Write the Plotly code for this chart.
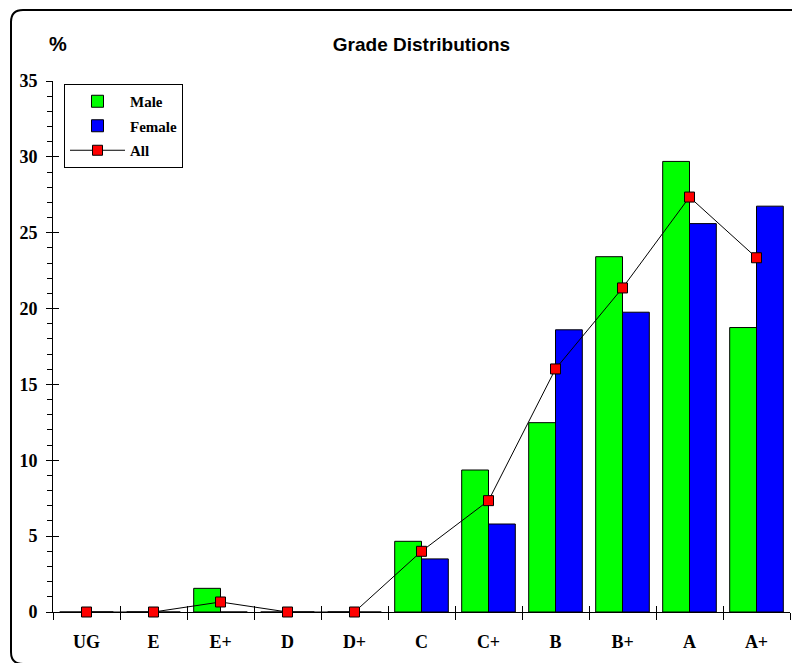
import plotly.graph_objects as go

categories = ["UG", "E", "E+", "D", "D+", "C", "C+", "B", "B+", "A", "A+"]
male = [0, 0, 1.56, 0, 0, 4.66, 9.36, 12.48, 23.42, 29.7, 18.75]
female = [0, 0, 0, 0, 0, 3.5, 5.8, 18.6, 19.76, 25.6, 26.75]
all_students = [0, 0, 0.66, 0, 0, 4.0, 7.34, 16.02, 21.36, 27.35, 23.35]

W, H = 792, 663
L, R, T, B = 53, 2, 81, 51
PW, PH = W - L - R, H - T - B


def px(xp):
    return (xp - L) / PW


def py(yp):
    return (H - B - yp) / PH


serif = "Liberation Serif"
sans = "Liberation Sans"

fig = go.Figure()
fig.add_trace(go.Bar(name="Male", x=categories, y=male, legendgroup="m",
                     marker=dict(color="#00FF00", line=dict(color="black", width=1))))
fig.add_trace(go.Bar(name="Female", x=categories, y=female, legendgroup="f",
                     marker=dict(color="#0000FF", line=dict(color="black", width=1))))
fig.add_trace(go.Scatter(name="All", x=categories, y=all_students, legendgroup="a",
                         mode="lines+markers", cliponaxis=False,
                         line=dict(color="black", width=1),
                         marker=dict(symbol="square", size=10, color="#FF0000",
                                     line=dict(color="black", width=1))))
# helper trace for the overlaid (inside-tick) axes
fig.add_trace(go.Scatter(x=categories, y=[None] * len(categories), xaxis="x2", yaxis="y2",
                         showlegend=False, hoverinfo="skip", mode="lines"))

# rounded outer frame
x0, y0, x1, y1, r = 11, 10, 810, 664, 12
path = (f"M {px(x0)},{py(y0 + r)} Q {px(x0)},{py(y0)} {px(x0 + r)},{py(y0)} "
        f"L {px(x1)},{py(y0)} M {px(x0)},{py(y0 + r)} L {px(x0)},{py(y1 - r)} "
        f"Q {px(x0)},{py(y1)} {px(x0 + r)},{py(y1)} L {px(x1)},{py(y1)}")
fig.add_shape(type="path", path=path, xref="paper", yref="paper",
              line=dict(color="black", width=2))

fig.update_layout(
    width=W, height=H,
    margin=dict(l=L, r=R, t=T, b=B),
    paper_bgcolor="white", plot_bgcolor="white",
    barmode="group", bargap=0.2, bargroupgap=0,
    showlegend=True,
    title=dict(text="Grade Distributions", x=0.5, xref="paper", xanchor="center",
               y=1 - 44 / H, yref="container", yanchor="middle",
               font=dict(family=sans, size=19, color="black", weight="bold")),
    legend=dict(x=px(64), y=py(84), xanchor="left", yanchor="top",
                bordercolor="black", borderwidth=1, bgcolor="white",
                traceorder="grouped", tracegroupgap=2, itemwidth=55,
                font=dict(family=serif, size=15, color="black", weight="bold")),
    xaxis=dict(type="category", categoryorder="array", categoryarray=categories,
               range=[-0.5, 10.5], tickson="boundaries", ticks="outside", ticklen=7,
               tickcolor="black", showline=True, linecolor="black", linewidth=1,
               showgrid=False, zeroline=False, layer="below traces",
               ticklabelstandoff=13,
               tickfont=dict(family=serif, size=18, color="black", weight="bold")),
    yaxis=dict(range=[0, 35], dtick=5, ticks="outside", ticklen=6, tickcolor="black",
               showline=True, linecolor="black", linewidth=1, showgrid=False,
               zeroline=False, layer="below traces", ticklabelstandoff=5,
               minor=dict(dtick=1, ticks="outside", ticklen=5, tickcolor="black"),
               tickfont=dict(family=serif, size=18, color="black", weight="bold")),
    xaxis2=dict(type="category", categoryorder="array", categoryarray=categories,
                overlaying="x", range=[-0.5, 10.5], tickson="boundaries",
                ticks="inside", ticklen=6, tickcolor="black", showticklabels=False,
                showline=False, showgrid=False, zeroline=False, side="bottom"),
    yaxis2=dict(overlaying="y", range=[0, 35], dtick=5, ticks="inside", ticklen=6,
                tickcolor="black", showticklabels=False, showline=False,
                showgrid=False, zeroline=False, side="left"),
    annotations=[dict(text="%", x=px(58), y=py(44), xref="paper", yref="paper",
                      showarrow=False, xanchor="center", yanchor="middle",
                      font=dict(family=sans, size=20, color="black", weight="bold"))],
)

fig.write_html("out.html", config={"displayModeBar": False},
               post_script="document.body.style.margin='0';")
